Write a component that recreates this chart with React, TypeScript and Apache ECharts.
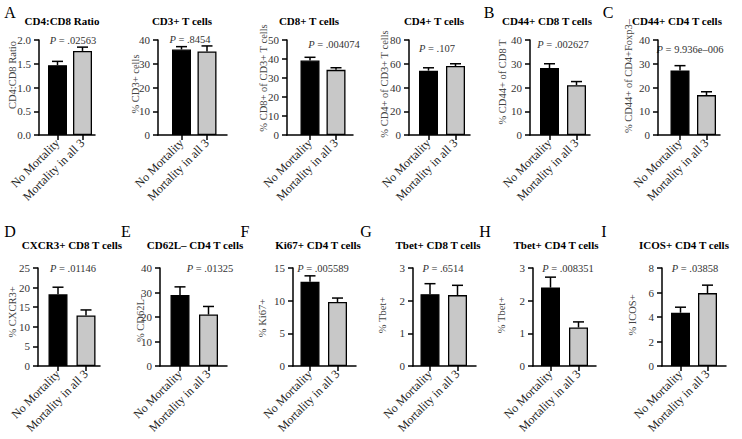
import React, { useEffect, useRef } from 'react';
import * as echarts from 'echarts';

const FONT = 'Liberation Serif';

const categories = ['No Mortality', 'Mortality in all 3'];
const panelTitles = [
  'CD4:CD8 Ratio', 'CD3+ T cells', 'CD8+ T cells', 'CD4+ T cells', 'CD44+ CD8 T cells', 'CD44+ CD4 T cells',
  'CXCR3+ CD8 T cells', 'CD62L– CD4 T cells', 'Ki67+ CD4 T cells', 'Tbet+ CD8 T cells', 'Tbet+ CD4 T cells', 'ICOS+ CD4 T cells',
];
const panelLetters = ['A', '', '', '', 'B', 'C', 'D', 'E', 'F', 'G', 'H', 'I'];
const yAxisTitles = [
  'CD4:CD8 Ratio', '% CD3+ cells', '% CD8+ of CD3+ T cells', '% CD4+ of CD3+ T cells', '% CD44+ of CD8 T', '% CD44+ of CD4+Foxp3–',
  '% CXCR3+', '% CD62L–', '% Ki67+', '% Tbet+', '% Tbet+', '% ICOS+',
];
const pValues = ['.02563', '.8454', '.004074', '.107', '.002627', '9.936e–006', '.01146', '.01325', '.005589', '.6514', '.008351', '.03858'];

const noMortality = [1.47, 36.0, 39.2, 54.2, 28.2, 27.2, 18.3, 29.0, 12.9, 2.2, 2.4, 4.35];
const noMortalityErr = [0.08, 1.2, 1.7, 2.4, 1.8, 2.0, 1.8, 3.3, 0.9, 0.32, 0.32, 0.45];
const mortalityAll3 = [1.77, 35.2, 34.3, 58.1, 21.0, 16.8, 12.9, 21.0, 9.8, 2.17, 1.18, 5.95];
const mortalityAll3Err = [0.08, 2.3, 1.1, 1.9, 1.5, 1.4, 1.4, 3.3, 0.6, 0.3, 0.17, 0.65];
const yMax = [2.0, 40, 50, 80, 40, 40, 25, 40, 15, 3, 3, 8];
const yInterval = [0.5, 10, 10, 20, 10, 10, 5, 10, 5, 1, 1, 2];

// layout: y-axis x, x-axis end, bar1 centre, bar2 centre, row
const layout = [
  [39, 95, 57.5, 82.5, 0],
  [158, 227, 181.5, 207, 0],
  [287, 353, 310, 336, 0],
  [409, 470, 428.5, 455.5, 0],
  [530, 590, 549.5, 576.5, 0],
  [658, 720, 680, 706.5, 0],
  [38, 100, 58, 86, 1],
  [160, 227, 180, 208.5, 1],
  [293, 356, 310, 337.5, 1],
  [413, 476, 430, 457.5, 1],
  [533, 596, 550.5, 578.5, 1],
  [662, 726, 680.5, 707.5, 1],
];
const rowTop = [40, 268];
const rowHeight = [95, 98];
const titlePos = [
  [62, 21], [182, 21], [309, 21], [434, 21], [547, 21], [677, 21],
  [72, 245], [195, 245], [318, 245], [438, 245], [556, 245], [684, 245],
];
const letterPos = [
  [10, 12], null, null, null, [489, 12], [608, 12],
  [10, 231], [126, 231], [245, 231], [366, 231], [485, 231], [604, 231],
];
const pPos = [
  [73, 40], [190, 39], [334, 44], [437, 48], [563, 44], [690, 49],
  [73, 268], [210, 268], [323, 268], [443, 268], [568, 268], [695, 268],
];
const yNamePos = [
  [12, 75], [135, 84], [263, 78], [384, 84], [502, 82], [628, 76],
  [12, 312], [140, 318], [262, 318], [382, 315], [501, 315], [632, 315],
];

export default function App() {
  const ref = useRef<HTMLDivElement>(null);
  useEffect(() => {
    if (!ref.current) return;
    const chart = echarts.init(ref.current, undefined, { renderer: 'svg' });
    const grid: any[] = [];
    const xAxis: any[] = [];
    const yAxis: any[] = [];
    const series: any[] = [];
    const graphic: any[] = [];
    layout.forEach((l, i) => {
      const [ax, ex, c1, c2, row] = l;
      const s = c2 - c1;
      grid.push({ left: ax, top: rowTop[row], width: ex - ax, height: rowHeight[row] });
      xAxis.push({
        gridIndex: i, type: 'value',
        min: 1 - (c1 - ax) / s, max: 2 + (ex - c2) / s,
        axisLine: { show: true, onZero: false, lineStyle: { color: '#000', width: 1.5 } },
        axisTick: { show: true, customValues: [1, 2], length: 5, lineStyle: { color: '#000', width: 1.5 } },
        axisLabel: {
          customValues: [1, 2], rotate: 45, fontSize: 12, fontFamily: FONT, color: '#222', margin: 6,
          formatter: (v: number) => categories[Math.round(v) - 1] ?? '',
        },
        splitLine: { show: false },
      });
      yAxis.push({
        gridIndex: i, type: 'value', min: 0, max: yMax[i], interval: yInterval[i],
        axisLine: { show: true, lineStyle: { color: '#000', width: 1.5 } },
        axisTick: { show: true, length: 5, lineStyle: { color: '#000', width: 1.5 } },
        axisLabel: {
          fontSize: 11, fontFamily: FONT, color: '#333', margin: 8,
          formatter: i === 0 ? (v: number) => v.toFixed(1) : (v: number) => String(v),
        },
        splitLine: { show: false },
      });
      series.push({
        type: 'bar', xAxisIndex: i, yAxisIndex: i, barWidth: 19, silent: true,
        itemStyle: { borderColor: '#000', borderWidth: 1.3 },
        data: [
          { value: [1, noMortality[i]], itemStyle: { color: '#000' } },
          { value: [2, mortalityAll3[i]], itemStyle: { color: '#c8c8c8' } },
        ],
      });
      series.push({
        type: 'custom', xAxisIndex: i, yAxisIndex: i, silent: true, clip: false,
        encode: { x: 0, y: [1, 2] },
        data: [
          [1, noMortality[i], noMortality[i] + noMortalityErr[i]],
          [2, mortalityAll3[i], mortalityAll3[i] + mortalityAll3Err[i]],
        ],
        renderItem: (params: any, api: any) => {
          const x = api.value(0);
          const p0 = api.coord([x, api.value(1)]);
          const p1 = api.coord([x, api.value(2)]);
          const cap = 5.5;
          return {
            type: 'group',
            children: [
              { type: 'line', shape: { x1: p0[0], y1: p0[1], x2: p1[0], y2: p1[1] }, style: { stroke: '#000', lineWidth: 1.5 } },
              { type: 'line', shape: { x1: p1[0] - cap, y1: p1[1], x2: p1[0] + cap, y2: p1[1] }, style: { stroke: '#000', lineWidth: 1.5 } },
            ],
          };
        },
      });
      graphic.push({
        type: 'text', x: titlePos[i][0], y: titlePos[i][1],
        style: { text: panelTitles[i], fontFamily: FONT, fontSize: 11, fontWeight: 'bold', fill: '#000', align: 'center', verticalAlign: 'middle', textAlign: 'center', textVerticalAlign: 'middle' },
      });
      const lp = letterPos[i];
      if (lp && panelLetters[i]) {
        graphic.push({
          type: 'text', x: lp[0], y: lp[1],
          style: { text: panelLetters[i], fontFamily: FONT, fontSize: 16, fill: '#000', align: 'center', verticalAlign: 'middle', textAlign: 'center', textVerticalAlign: 'middle' },
        });
      }
      graphic.push({
        type: 'text', x: pPos[i][0], y: pPos[i][1],
        style: {
          text: `{i|P} = ${pValues[i]}`, fontFamily: FONT, fontSize: 10.5, fill: '#333', align: 'center', verticalAlign: 'middle', textAlign: 'center', textVerticalAlign: 'middle',
          rich: { i: { fontStyle: 'italic', fontFamily: FONT, fontSize: 10.5, fill: '#333' } },
        },
      });
      graphic.push({
        type: 'text', x: yNamePos[i][0], y: yNamePos[i][1], rotation: Math.PI / 2,
        style: { text: yAxisTitles[i], fontFamily: FONT, fontSize: 10.5, fill: '#444', align: 'center', verticalAlign: 'middle', textAlign: 'center', textVerticalAlign: 'middle' },
      });
    });
    chart.setOption({ animation: false, backgroundColor: '#fff', textStyle: { fontFamily: FONT }, grid, xAxis, yAxis, series, graphic });
    return () => chart.dispose();
  }, []);
  return <div ref={ref} style={{ position: 'absolute', left: 0, top: 0, width: 742, height: 439 }} />;
}
